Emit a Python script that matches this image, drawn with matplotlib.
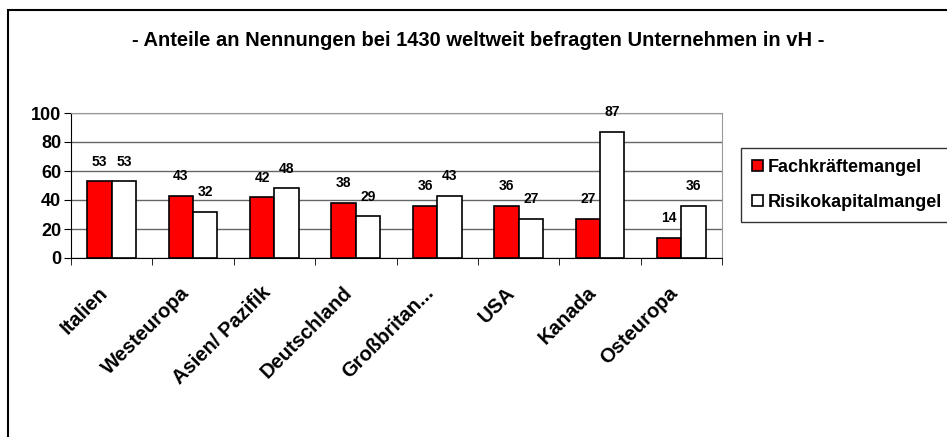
import numpy as np
import matplotlib
matplotlib.use("Agg")
import matplotlib.pyplot as plt
from matplotlib.patches import Rectangle

plt.rcParams['font.family'] = ['Liberation Sans', 'DejaVu Sans']

regionen = ['Italien', 'Westeuropa', 'Asien/ Pazifik', 'Deutschland',
            'Großbritan...', 'USA', 'Kanada', 'Osteuropa']
fachkraefte = [53, 43, 42, 38, 36, 36, 27, 14]
risikokapital = [53, 32, 48, 29, 43, 27, 87, 36]
titel = '- Anteile an Nennungen bei 1430 weltweit befragten Unternehmen in vH -'

fig = plt.figure(figsize=(9.47, 4.37), dpi=100)
ax = fig.add_axes([71 / 947, 1 - 258 / 437, 651 / 947, 145 / 437])

x = np.arange(len(regionen))
w = 0.3
b1 = ax.bar(x - w / 2, fachkraefte, w, color='#ff0000', edgecolor='black',
            linewidth=1.2, label='Fachkräftemangel', zorder=3)
b2 = ax.bar(x + w / 2, risikokapital, w, color='white', edgecolor='black',
            linewidth=1.2, label='Risikokapitalmangel', zorder=3)

for bars in (b1, b2):
    for r in bars:
        ax.annotate(f'{int(r.get_height())}',
                    (r.get_x() + r.get_width() / 2, r.get_height()),
                    xytext=(0, 14), textcoords='offset points',
                    ha='center', va='center', fontsize=10, fontweight='bold')

ax.set_xlim(-0.5, len(regionen) - 0.5)
ax.set_ylim(0, 100)
ax.set_yticks(range(0, 101, 20))
ax.yaxis.grid(True, color='#666666', linewidth=1, zorder=0)
ax.set_axisbelow(True)

ax.set_xticks(x)
ax.set_xticklabels(regionen, rotation=45, ha='right', fontsize=14.5,
                   fontweight='bold')
ax.tick_params(axis='x', length=0, pad=18)
ax.set_xticks(np.arange(len(regionen) + 1) - 0.5, minor=True)
ax.tick_params(axis='x', which='minor', length=5, direction='out', color='black')
ax.tick_params(axis='y', length=5, direction='out', labelsize=13, pad=2)
for lab in ax.get_yticklabels():
    lab.set_fontweight('bold')

ax.spines['left'].set_color('black')
ax.spines['bottom'].set_color('black')
ax.spines['top'].set_color('#999999')
ax.spines['right'].set_color('#999999')

fig.text(478 / 947, 1 - 40 / 437, titel, ha='center', va='center',
         fontsize=14.5, fontweight='bold')

leg = fig.legend(handles=[b1, b2], loc='upper left',
                 bbox_to_anchor=(741 / 947, 1 - 148 / 437),
                 prop={'weight': 'bold', 'size': 13},
                 frameon=True, fancybox=False, edgecolor='black',
                 handlelength=0.6, handleheight=0.6, handletextpad=0.3,
                 borderpad=0.6, labelspacing=1.0, borderaxespad=0)
leg.get_frame().set_linewidth(1)

fig.patches.append(Rectangle((8 / 947, -0.1), 1.2, 1.1 - 10 / 437,
                             transform=fig.transFigure, fill=False,
                             edgecolor='black', linewidth=1.5))

fig.savefig('out.png', dpi=100)
